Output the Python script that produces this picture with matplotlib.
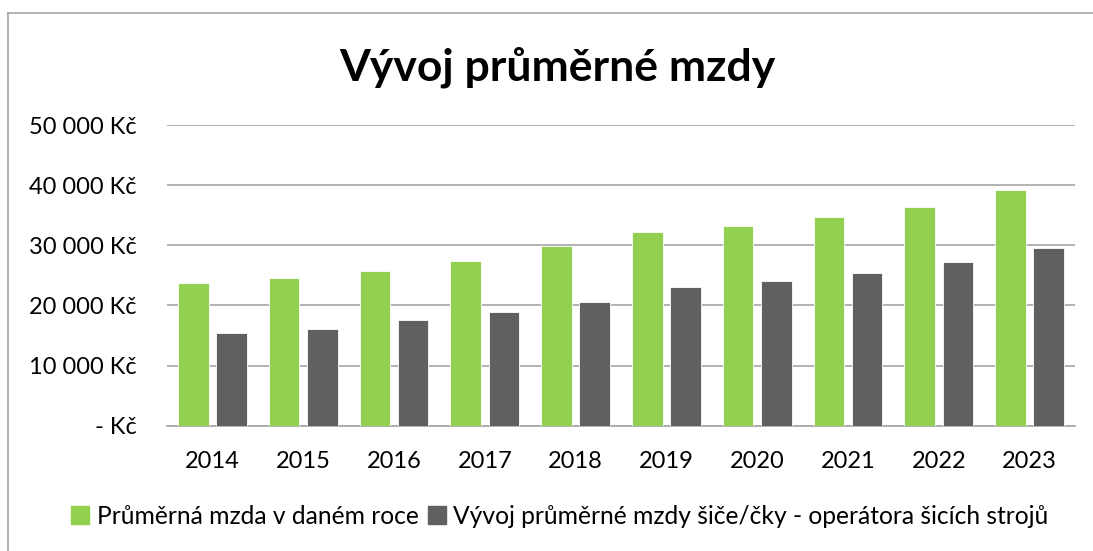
import matplotlib
matplotlib.use("Agg")
import matplotlib.pyplot as plt
from matplotlib.patches import Rectangle
from matplotlib.lines import Line2D
import numpy as np

years = ["2014", "2015", "2016", "2017", "2018", "2019", "2020", "2021", "2022", "2023"]
avg_wage = [23780, 24610, 25720, 27390, 29830, 32280, 33220, 34670, 36440, 39220]
sewer_wage = [15440, 16110, 17500, 18830, 20610, 23110, 24060, 25440, 27220, 29560]
series_names = ["Průměrná mzda v daném roce",
                "Vývoj průměrné mzdy šiče/čky - operátora šicích strojů"]
yticks = [0, 10000, 20000, 30000, 40000, 50000]

GREEN = "#92D050"
GREY = "#606060"
FONT = ["Lato", "DejaVu Sans"]
plt.rcParams["font.family"] = FONT

fig = plt.figure(figsize=(10.93, 5.51), dpi=100)
ax = fig.add_axes([167/1093, 1-425.7/551, (1075-167)/1093, (425.7-125)/551])

x = np.arange(len(years))
w = 0.336
off = 0.21
ax.bar(x - off, avg_wage, width=w, color=GREEN, edgecolor="white", linewidth=0.6, zorder=3, label=series_names[0])
ax.bar(x + off, sewer_wage, width=w, color=GREY, edgecolor="white", linewidth=0.6, zorder=3, label=series_names[1])

ax.set_xlim(-0.5, len(years) - 0.5)
ax.set_ylim(0, 50000)
ax.set_yticks(yticks)
ax.set_yticklabels(["- Kč" if v == 0 else f"{v:,}".replace(",", " ") + " Kč" for v in yticks])
ax.set_xticks(x)
ax.set_xticklabels(years)
ax.grid(axis="y", color="#A6A6A6", linewidth=1.2, zorder=0)
for s in ["top", "right", "left"]:
    ax.spines[s].set_visible(False)
ax.spines["bottom"].set_color("#A6A6A6")
ax.spines["bottom"].set_linewidth(1.2)
ax.tick_params(axis="y", length=0, pad=22, labelsize=17)
ax.tick_params(axis="x", length=0, pad=18, labelsize=17)

fig.text(0.51, 1-80/551, "Vývoj průměrné mzdy", ha="center", va="baseline",
         fontsize=32, fontweight="bold")

handles = [Rectangle((0, 0), 1, 1, color=GREEN), Rectangle((0, 0), 1, 1, color=GREY)]
fig.legend(handles, series_names, loc="center", bbox_to_anchor=(560/1093, 1-516/551),
           ncol=2, frameon=False, fontsize=17.7, handlelength=0.72, handleheight=0.72,
           handletextpad=0.3, columnspacing=0.4, borderaxespad=0, borderpad=0)

# chart border
fig.add_artist(Line2D([8/1093, 8/1093], [0, 1-13/551], color="#A6A6A6", linewidth=1.2))
fig.add_artist(Line2D([8/1093, 1], [1-13/551, 1-13/551], color="#A6A6A6", linewidth=1.2))

fig.savefig("out.png", dpi=100)
